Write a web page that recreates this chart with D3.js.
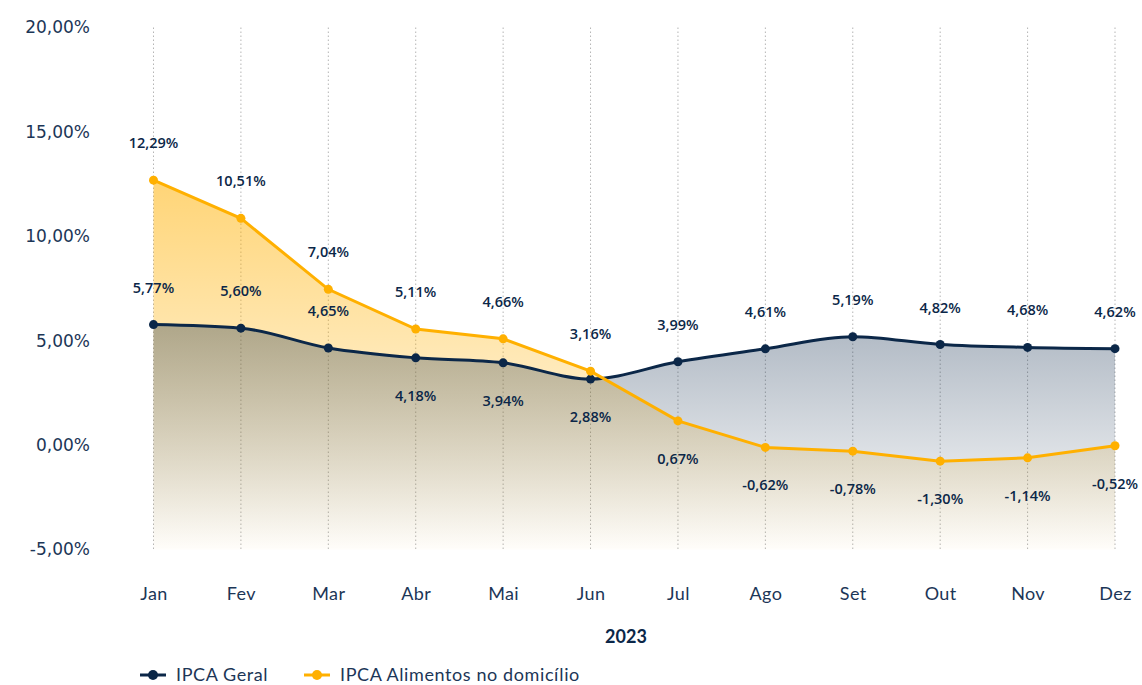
<html>
<head>
<meta charset="utf-8">
<title>IPCA 2023</title>
<style>
  body { margin: 0; background: #fff; }
  text { font-family: Lato, "Open Sans", sans-serif; }
</style>
</head>
<body>
<div id="chart"></div>
<script src="https://cdn.jsdelivr.net/npm/d3@7"></script>
<script>
// data
var months = ["Jan","Fev","Mar","Abr","Mai","Jun","Jul","Ago","Set","Out","Nov","Dez"];
var geral = [5.77, 5.60, 4.65, 4.18, 3.94, 3.16, 3.99, 4.61, 5.19, 4.82, 4.68, 4.62];
var alimentos = [12.69, 10.86, 7.46, 5.56, 5.09, 3.54, 1.16, -0.11, -0.29, -0.77, -0.61, -0.03];
var geralLabels = ["5,77%","5,60%","4,65%","4,18%","3,94%","2,88%","3,99%","4,61%","5,19%","4,82%","4,68%","4,62%"];
var alimentosLabels = ["12,29%","10,51%","7,04%","5,11%","4,66%","3,16%","0,67%","-0,62%","-0,78%","-1,30%","-1,14%","-0,52%"];
var yTicks = [-5, 0, 5, 10, 15, 20];
var seriesNames = ["IPCA Geral", "IPCA Alimentos no domicílio"];

var width = 1142, height = 685;
var navy = "#0b2748", orange = "#ffb000", textColor = "#1c3657";

var svg = d3.select("#chart").append("svg")
    .attr("width", width)
    .attr("height", height);

var x = d3.scalePoint().domain(months).range([153.5, 1115]);
var y = d3.scaleLinear().domain([-5, 20]).range([549.5, 27.5]);

var defs = svg.append("defs");

function gradient(id, color, top, bottom) {
  var g = defs.append("linearGradient")
      .attr("id", id)
      .attr("gradientUnits", "userSpaceOnUse")
      .attr("x1", 0).attr("x2", 0)
      .attr("y1", y(20)).attr("y2", y(-5));
  g.append("stop").attr("offset", 0).attr("stop-color", color).attr("stop-opacity", top);
  g.append("stop").attr("offset", 1).attr("stop-color", color).attr("stop-opacity", bottom);
}
gradient("gradNavy", navy, 0.76, 0.0);
gradient("gradOrange", orange, 0.75, 0.02);

// vertical dotted grid
svg.append("g")
  .selectAll("line")
  .data(months)
  .enter().append("line")
  .attr("x1", function(d){ return x(d); })
  .attr("x2", function(d){ return x(d); })
  .attr("y1", y(20))
  .attr("y2", y(-5))
  .attr("stroke", "#b5b5b5")
  .attr("stroke-width", 1)
  .attr("stroke-dasharray", "1.5,2.5");

// y axis
var yAxis = d3.axisLeft(y)
    .tickValues(yTicks)
    .tickSize(0)
    .tickPadding(0)
    .tickFormat(function(d){ return d.toFixed(2).replace(".", ",") + "%"; });

var yg = svg.append("g")
    .attr("transform", "translate(90,0)")
    .call(yAxis);
yg.select(".domain").remove();
yg.selectAll("text")
  .attr("fill", textColor)
  .style("font-size", "17px")
  .style("font-family", "'DejaVu Sans', sans-serif");

// x axis
var xAxis = d3.axisBottom(x).tickSize(0).tickPadding(0);
var xg = svg.append("g")
    .attr("transform", "translate(0,587)")
    .call(xAxis);
xg.select(".domain").remove();
xg.selectAll("text")
  .attr("fill", textColor)
  .style("font-size", "18px")
  .style("letter-spacing", "0.4px")
  .style("font-family", "Lato, sans-serif");

svg.append("text")
  .attr("x", 626)
  .attr("y", 643)
  .attr("text-anchor", "middle")
  .attr("fill", navy)
  .style("font-size", "18px")
  .style("font-weight", "bold")
  .text("2023");

// areas
var navyArea = d3.area()
    .x(function(d, i){ return x(months[i]); })
    .y0(y(-5))
    .y1(function(d){ return y(d); })
    .curve(d3.curveMonotoneX);

var orangeArea = d3.area()
    .x(function(d, i){ return x(months[i]); })
    .y0(y(-5))
    .y1(function(d){ return y(d); });

svg.append("path").datum(alimentos)
  .attr("d", orangeArea)
  .attr("fill", "url(#gradOrange)");

svg.append("path").datum(geral)
  .attr("d", navyArea)
  .attr("fill", "url(#gradNavy)");

// lines
var navyLine = d3.line()
    .x(function(d, i){ return x(months[i]); })
    .y(function(d){ return y(d); })
    .curve(d3.curveMonotoneX);

var orangeLine = d3.line()
    .x(function(d, i){ return x(months[i]); })
    .y(function(d){ return y(d); });

svg.append("path").datum(geral)
  .attr("d", navyLine)
  .attr("fill", "none")
  .attr("stroke", navy)
  .attr("stroke-width", 3);

svg.append("path").datum(alimentos)
  .attr("d", orangeLine)
  .attr("fill", "none")
  .attr("stroke", orange)
  .attr("stroke-width", 3);

// points
svg.append("g").selectAll("circle")
  .data(geral)
  .enter().append("circle")
  .attr("cx", function(d, i){ return x(months[i]); })
  .attr("cy", function(d){ return y(d); })
  .attr("r", 4.5)
  .attr("fill", navy);

svg.append("g").selectAll("circle")
  .data(alimentos)
  .enter().append("circle")
  .attr("cx", function(d, i){ return x(months[i]); })
  .attr("cy", function(d){ return y(d); })
  .attr("r", 4.5)
  .attr("fill", orange);

// value labels
var geralBelow = ["Abr", "Mai", "Jun"];
var alimentosBelow = ["Jul", "Ago", "Set", "Out", "Nov", "Dez"];

function addLabels(values, texts, below) {
  svg.append("g").selectAll("text")
    .data(values)
    .enter().append("text")
    .attr("x", function(d, i){ return x(months[i]); })
    .attr("y", function(d, i){
      return below.indexOf(months[i]) >= 0 ? y(d) + 38 : y(d) - 37;
    })
    .attr("dy", "0.35em")
    .attr("text-anchor", "middle")
    .attr("fill", navy)
    .style("font-size", "14.5px")
    .style("font-weight", "600")
    .style("font-family", "'Open Sans', sans-serif")
    .text(function(d, i){ return texts[i]; });
}
addLabels(geral, geralLabels, geralBelow);
addLabels(alimentos, alimentosLabels, alimentosBelow);

// legend
var legend = svg.append("g").attr("transform", "translate(0,675)");
var legendItems = [
  {name: seriesNames[0], color: navy, x: 140},
  {name: seriesNames[1], color: orange, x: 304}
];
legendItems.forEach(function(d){
  legend.append("line")
    .attr("x1", d.x).attr("x2", d.x + 26)
    .attr("y1", 0).attr("y2", 0)
    .attr("stroke", d.color)
    .attr("stroke-width", 3);
  legend.append("circle")
    .attr("cx", d.x + 13).attr("cy", 0)
    .attr("r", 5)
    .attr("fill", d.color);
  legend.append("text")
    .attr("x", d.x + 36)
    .attr("y", 0)
    .attr("dy", "0.35em")
    .attr("fill", textColor)
    .style("font-size", "18px")
    .style("letter-spacing", "0.6px")
    .text(d.name);
});
</script>
</body>
</html>
